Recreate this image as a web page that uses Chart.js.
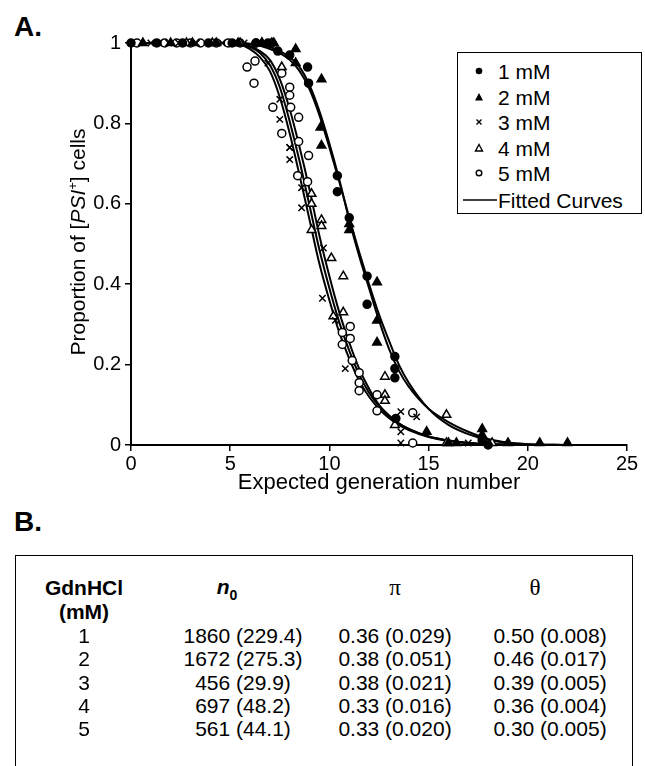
<!DOCTYPE html>
<html>
<head>
<meta charset="utf-8">
<script src="https://cdn.jsdelivr.net/npm/chart.js@4.4.0/dist/chart.umd.min.js"></script>
<style>
  html, body { margin: 0; padding: 0; background: #fff; }
  body { width: 645px; height: 766px; position: relative; overflow: hidden; font-family: "Liberation Sans", Arial, sans-serif; color: #000; }
  #wrap { position: absolute; left: 0; top: 0; width: 645px; height: 500px; }
  .panel { position: absolute; font-weight: bold; font-size: 28px; line-height: 1; }
  #ytitle { position: absolute; left: 78px; top: 242px; transform: translate(-50%, -50%) rotate(-90deg); white-space: nowrap; font-size: 21px; }
  #ytitle sup { font-size: 13px; vertical-align: 8px; line-height: 0; }
  #legend { position: absolute; left: 457px; top: 52px; width: 185px; height: 162px; border: 1.5px solid #000; box-sizing: border-box; background: #fff; }
  .lg { position: absolute; left: 0; font-size: 21px; line-height: 1; white-space: nowrap; }
  .lg svg { position: absolute; }
  .lg span { position: absolute; left: 40px; transform: translateY(-50%); }
  #table { position: absolute; left: 15px; top: 555px; width: 618px; height: 240px; border: 1.5px solid #000; box-sizing: border-box; }
  .cell { position: absolute; transform: translate(-50%, -50%); white-space: nowrap; font-size: 21px; line-height: 1; }
  .hd { font-weight: bold; }
  .greek { font-family: "Liberation Serif", "DejaVu Serif", serif; font-size: 23px; }
</style>
</head>
<body>
<div class="panel" style="left:14px; top:13px;">A.</div>
<div id="wrap"><canvas id="chart" width="645" height="500"></canvas></div>
<div id="ytitle">Proportion of [<i>PSI</i><sup>+</sup>] cells</div>
<div id="legend"></div>
<div class="panel" style="left:14px; top:508px;">B.</div>
<div id="table"></div>
<script>
// GdnHCl concentrations
const seriesNames = ['1 mM', '2 mM', '3 mM', '4 mM', '5 mM'];
const markerKinds = ['dot', 'tri', 'cross', 'otri', 'ocircle'];

// observed proportions (x = expected generation number)
const x1 = [0, 1.3, 2.6, 3.9, 5.1, 6.3, 6.9, 7.4, 8.0, 8.9, 8.95, 10.4, 10.4, 11.0, 11.9, 11.9, 13.3, 13.3, 13.3, 13.35, 17.7, 18.0];
const y1 = [1, 1, 1, 1, 1, 1, 1, 0.98, 0.97, 0.94, 0.9, 0.67, 0.63, 0.565, 0.42, 0.35, 0.22, 0.19, 0.167, 0.066, 0.012, 0];

const x2 = [0.6, 2.0, 3.1, 4.3, 5.4, 6.6, 7.2, 8.3, 8.3, 9.6, 9.55, 9.6, 11.0, 11.0, 12.4, 12.4, 12.4, 14.9, 17.7, 17.7, 16.0, 16.4, 19.0, 20.6, 22.0];
const y2 = [1, 1, 1, 1, 1, 1, 1, 0.985, 0.95, 0.91, 0.79, 0.745, 0.55, 0.535, 0.405, 0.31, 0.255, 0.033, 0.04, 0.025, 0.005, 0.005, 0.005, 0.005, 0.005];

const x3 = [1.0, 1.4, 1.9, 2.4, 3.3, 4.6, 5.2, 5.7, 6.4, 6.9, 7.5, 7.5, 8.0, 8.0, 8.0, 8.6, 8.6, 9.7, 9.65, 10.3, 10.8, 13.6, 13.6, 13.6, 17.0, 14.4];
const y3 = [1, 1, 1, 1, 1, 1, 1, 1, 1, 0.95, 0.86, 0.81, 0.74, 0.74, 0.71, 0.64, 0.59, 0.49, 0.365, 0.31, 0.19, 0.083, 0.033, 0.005, 0.005, 0.07];

const x4 = [2.8, 4.1, 5.5, 6.6, 7.1, 7.6, 9.1, 9.1, 9.6, 9.6, 9.1, 10.1, 10.7, 10.2, 10.7, 12.8, 12.8, 12.8, 15.9, 13.3, 15.9, 18.2];
const y4 = [1, 1, 1, 1, 1, 0.94, 0.625, 0.6, 0.56, 0.545, 0.535, 0.465, 0.42, 0.32, 0.33, 0.17, 0.125, 0.11, 0.075, 0.05, 0.005, 0.005];

const x5 = [0.3, 1.7, 2.3, 3.0, 3.5, 4.3, 4.9, 5.5, 6.3, 7.1, 5.85, 6.25, 6.2, 7.6, 8.0, 8.0, 7.15, 8.05, 8.45, 7.6, 8.45, 8.95, 8.4, 8.9, 11.05, 10.65, 11.05, 10.65, 11.15, 11.5, 11.5, 11.5, 12.4, 12.4, 14.2, 14.2];
const y5 = [1, 1, 1, 1, 1, 1, 1, 1, 1, 1, 0.94, 0.955, 0.9, 0.925, 0.89, 0.87, 0.84, 0.84, 0.815, 0.775, 0.755, 0.72, 0.67, 0.655, 0.295, 0.28, 0.265, 0.25, 0.21, 0.18, 0.155, 0.135, 0.125, 0.085, 0.08, 0.005];

// fitted curves
const fitX = [0, 5, 5.5, 6, 6.5, 7, 7.5, 8, 8.5, 9, 9.5, 10, 10.5, 11, 11.5, 12, 12.5, 13, 13.5, 14, 15, 16, 17, 18, 19, 20, 22];
const fit1 = [1, 1, 1, 0.998, 0.995, 0.99, 0.98, 0.965, 0.94, 0.895, 0.83, 0.75, 0.66, 0.56, 0.47, 0.39, 0.31, 0.24, 0.185, 0.145, 0.09, 0.057, 0.033, 0.015, 0.006, 0.002, 0];
const fit2 = [1, 1, 1, 0.997, 0.993, 0.985, 0.975, 0.958, 0.93, 0.885, 0.82, 0.74, 0.655, 0.565, 0.48, 0.4, 0.325, 0.26, 0.2, 0.155, 0.09, 0.05, 0.027, 0.013, 0.005, 0.002, 0];
const fit3 = [1, 1, 0.996, 0.985, 0.965, 0.93, 0.865, 0.775, 0.67, 0.56, 0.45, 0.36, 0.28, 0.215, 0.16, 0.12, 0.09, 0.067, 0.05, 0.037, 0.02, 0.01, 0.005, 0.002, 0.001, 0, 0];
const fit4 = [1, 1, 0.998, 0.99, 0.975, 0.945, 0.89, 0.805, 0.705, 0.595, 0.485, 0.39, 0.305, 0.235, 0.175, 0.13, 0.097, 0.072, 0.053, 0.04, 0.021, 0.011, 0.005, 0.002, 0.001, 0, 0];
const fit5 = [1, 1, 0.999, 0.993, 0.98, 0.958, 0.91, 0.835, 0.74, 0.635, 0.52, 0.42, 0.33, 0.255, 0.19, 0.14, 0.1, 0.074, 0.054, 0.04, 0.021, 0.011, 0.005, 0.002, 0.001, 0, 0];

const xTicks = [0, 5, 10, 15, 20, 25];
const yTicks = [0, 0.2, 0.4, 0.6, 0.8, 1];
const yTickLabels = ['0', '0.2', '0.4', '0.6', '0.8', '1'];

// table B
const tblConc = ['1', '2', '3', '4', '5'];
const tblN0 = ['1860 (229.4)', '1672 (275.3)', '456 (29.9)', '697 (48.2)', '561 (44.1)'];
const tblPi = ['0.36 (0.029)', '0.38 (0.051)', '0.38 (0.021)', '0.33 (0.016)', '0.33 (0.020)'];
const tblTheta = ['0.50 (0.008)', '0.46 (0.017)', '0.39 (0.005)', '0.36 (0.004)', '0.30 (0.005)'];

const xs = [x1, x2, x3, x4, x5];
const ys = [y1, y2, y3, y4, y5];
const fits = [fit1, fit2, fit3, fit4, fit5];

function pts(a, b) {
    return a.map((v, i) => ({ x: v, y: b[i] }));
}

const markerStyle = {
    dot:     { pointStyle: 'circle',   radius: 4,   fill: '#000' },
    tri:     { pointStyle: 'triangle', radius: 5,   fill: '#000' },
    cross:   { pointStyle: 'crossRot', radius: 4.5, fill: '#000' },
    otri:    { pointStyle: 'triangle', radius: 5,   fill: '#fff' },
    ocircle: { pointStyle: 'circle',   radius: 4,   fill: '#fff' }
};

const datasets = [];
seriesNames.forEach((name, i) => {
    const m = markerStyle[markerKinds[i]];
    datasets.push({
        type: 'scatter',
        label: name,
        data: pts(xs[i], ys[i]),
        pointStyle: m.pointStyle,
        pointRadius: m.radius,
        pointBackgroundColor: m.fill,
        pointBorderColor: '#000',
        pointBorderWidth: 1.5,
        clip: false,
        order: 0
    });
});
fits.forEach((f, i) => {
    datasets.push({
        type: 'line',
        label: 'Fitted ' + seriesNames[i],
        data: pts(fitX, f),
        borderColor: '#000',
        borderWidth: 2,
        pointRadius: 0,
        fill: false,
        cubicInterpolationMode: 'monotone',
        clip: false,
        order: 1
    });
});

const tickFont = { family: "'Liberation Sans', Arial, sans-serif", size: 20 };
const titleFont = { family: "'Liberation Sans', Arial, sans-serif", size: 22 };

new Chart(document.getElementById('chart').getContext('2d'), {
    type: 'scatter',
    data: { datasets },
    options: {
        responsive: false,
        animation: false,
        layout: { padding: { top: 43, right: 18, left: 0, bottom: 0 } },
        plugins: { legend: { display: false }, tooltip: { enabled: false } },
        scales: {
            x: {
                type: 'linear',
                min: 0,
                max: 25,
                afterBuildTicks: s => { s.ticks = xTicks.map(v => ({ value: v })); },
                afterFit: s => { s.height = 55; },
                ticks: { font: tickFont, color: '#000', padding: 1, maxRotation: 0 },
                grid: { drawOnChartArea: false, color: '#000', tickLength: 6, lineWidth: 1.5 },
                border: { color: '#000', width: 2 },
                title: { display: true, text: 'Expected generation number', font: titleFont, color: '#000', padding: { top: 0, bottom: 4 } }
            },
            y: {
                type: 'linear',
                min: 0,
                max: 1,
                afterBuildTicks: s => { s.ticks = yTicks.map(v => ({ value: v })); },
                afterFit: s => { s.width = 131; },
                ticks: { font: tickFont, color: '#000', padding: 4, callback: (v) => yTickLabels[yTicks.indexOf(v)] },
                grid: { drawOnChartArea: false, color: '#000', tickLength: 6, lineWidth: 1.5 },
                border: { color: '#000', width: 2 }
            }
        }
    }
});

// legend
const markerSvg = {
    dot: '<circle cx="7" cy="7" r="3.3" fill="#000"/>',
    tri: '<polygon points="7,3 11,10.5 3,10.5" fill="#000"/>',
    cross: '<path d="M4.5,4.5 L9.5,9.5 M9.5,4.5 L4.5,9.5" stroke="#000" stroke-width="1.4"/>',
    otri: '<polygon points="7,3.5 10.5,10 3.5,10" fill="#fff" stroke="#000" stroke-width="1.4"/>',
    ocircle: '<circle cx="7" cy="7" r="2.8" fill="#fff" stroke="#000" stroke-width="1.4"/>'
};
const legend = document.getElementById('legend');
const rowY = [18, 44, 69, 95, 120, 147];
seriesNames.forEach((name, i) => {
    const row = document.createElement('div');
    row.className = 'lg';
    row.style.top = rowY[i] + 'px';
    row.innerHTML = '<svg width="14" height="14" style="left:14px;top:-7px">' + markerSvg[markerKinds[i]] + '</svg><span>' + name + '</span>';
    legend.appendChild(row);
});
const fitRow = document.createElement('div');
fitRow.className = 'lg';
fitRow.style.top = rowY[5] + 'px';
fitRow.innerHTML = '<svg width="34" height="4" style="left:5px;top:-2px"><line x1="0" y1="2" x2="34" y2="2" stroke="#000" stroke-width="1.5"/></svg><span>Fitted Curves</span>';
legend.appendChild(fitRow);

// table
const table = document.getElementById('table');
const colX = [68, 227, 379, 534];
const headY = 31;
function cell(text, x, y, cls) {
    const d = document.createElement('div');
    d.className = 'cell' + (cls ? ' ' + cls : '');
    d.style.left = x + 'px';
    d.style.top = y + 'px';
    d.innerHTML = text;
    table.appendChild(d);
}
cell('GdnHCl', colX[0], headY, 'hd');
cell('(mM)', colX[0], headY + 24, 'hd');
cell('<i>n</i><sub style="font-size:14px">0</sub>', colX[1] - 16, headY + 2, 'hd');
cell('&pi;', colX[2], headY, 'greek');
cell('&theta;', colX[3] - 15, headY, 'greek');
const rowTop = 79;
tblConc.forEach((c, i) => {
    const y = rowTop + i * 23.3;
    cell(c, colX[0], y);
    cell(tblN0[i], colX[1], y);
    cell(tblPi[i], colX[2], y);
    cell(tblTheta[i], colX[3], y);
});
</script>
</body>
</html>
